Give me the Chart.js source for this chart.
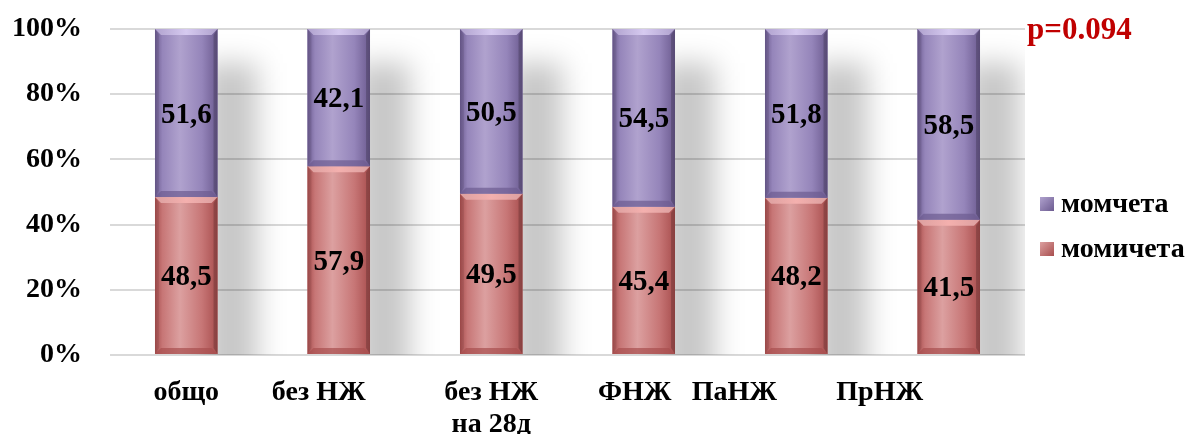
<!DOCTYPE html>
<html>
<head>
<meta charset="utf-8">
<script src="https://cdn.jsdelivr.net/npm/chart.js@4.4.1/dist/chart.umd.min.js"></script>
<style>
  html, body { margin: 0; padding: 0; background: #fff; }
  #wrap { width: 1190px; height: 434px; }
</style>
</head>
<body>
<div id="wrap"><canvas id="myCanvas" width="1190" height="434"></canvas></div>
<script>
// groups and percent shares (girls / boys)
let categories = [["общо"], ["без НЖ"], ["без НЖ", "на 28д"], ["ФНЖ"], ["ПаНЖ"], ["ПрНЖ"]];
let girls = [48.5, 57.9, 49.5, 45.4, 48.2, 41.5];
let boys = [51.6, 42.1, 50.5, 54.5, 51.8, 58.5];
let yTicks = [0, 20, 40, 60, 80, 100];
let pText = "p=0.094";

// category labels sit a little left of some bars
let labelShift = [0, -20, 0, -9, -62, -69];

const serif = "'Liberation Serif', 'Times New Roman', serif";

// 100% stacked: each bar is its share of the group total
function share(arr, i) {
  return arr[i] / (girls[i] + boys[i]) * 100;
}

const palette = {
  girls: { base: '#C77676', dark: '#A84E4E', light: '#DCA0A0', top: '#F4B0AE' },
  boys: { base: '#9585BA', dark: '#6C5B90', light: '#B0A2CE', top: '#D6CAF0' }
};

// soft grey shadow to the right of every column
const shadowPlugin = {
  id: 'colShadow',
  beforeDatasetsDraw(chart) {
    const ctx = chart.ctx;
    const meta = chart.getDatasetMeta(1);
    const base = chart.scales.y.getPixelForValue(0);
    ctx.save();
    ctx.beginPath();
    ctx.rect(chart.chartArea.left, chart.chartArea.top, chart.chartArea.width, base - chart.chartArea.top);
    ctx.clip();
    ctx.filter = 'blur(14px)';
    meta.data.forEach(bar => {
      const right = bar.x + bar.width / 2;
      ctx.fillStyle = 'rgba(0,0,0,0.22)';
      ctx.fillRect(right - 14, bar.y + 34, 54, base - bar.y);
    });
    ctx.restore();
  }
};

// bevelled look and value labels on top of the plain bars
const bevelPlugin = {
  id: 'bevel',
  afterDatasetsDraw(chart) {
    const ctx = chart.ctx;
    [0, 1].forEach(di => {
      const meta = chart.getDatasetMeta(di);
      const col = di === 0 ? palette.girls : palette.boys;
      const values = di === 0 ? girls : boys;
      meta.data.forEach((bar, i) => {
        const l = bar.x - bar.width / 2, r = bar.x + bar.width / 2;
        const t = Math.min(bar.y, bar.base), b = Math.max(bar.y, bar.base);
        const w = r - l, bv = 6;
        ctx.save();
        const g = ctx.createLinearGradient(l, 0, r, 0);
        g.addColorStop(0, col.dark);
        g.addColorStop(0.12, col.base);
        g.addColorStop(0.4, col.light);
        g.addColorStop(0.75, col.base);
        g.addColorStop(1, col.dark);
        ctx.fillStyle = g;
        ctx.fillRect(l, t, w, b - t);
        // top bevel
        ctx.beginPath();
        ctx.moveTo(l, t); ctx.lineTo(r, t); ctx.lineTo(r - bv, t + bv); ctx.lineTo(l + bv, t + bv);
        ctx.closePath();
        const gt = ctx.createLinearGradient(l, 0, r, 0);
        gt.addColorStop(0, col.light);
        gt.addColorStop(0.5, col.top);
        gt.addColorStop(1, col.light);
        ctx.fillStyle = gt;
        ctx.fill();
        // bottom bevel
        ctx.beginPath();
        ctx.moveTo(l, b); ctx.lineTo(r, b); ctx.lineTo(r - bv, b - bv); ctx.lineTo(l + bv, b - bv);
        ctx.closePath();
        ctx.fillStyle = col.dark;
        ctx.globalAlpha = 0.7;
        ctx.fill();
        // side bevels
        ctx.globalAlpha = 0.18;
        ctx.beginPath();
        ctx.moveTo(r, t); ctx.lineTo(r, b); ctx.lineTo(r - 4, b - bv); ctx.lineTo(r - 4, t + bv);
        ctx.closePath();
        ctx.fillStyle = '#000';
        ctx.fill();
        ctx.globalAlpha = 0.08;
        ctx.beginPath();
        ctx.moveTo(l, t); ctx.lineTo(l, b); ctx.lineTo(l + 4, b - bv); ctx.lineTo(l + 4, t + bv);
        ctx.closePath();
        ctx.fill();
        ctx.restore();

        ctx.save();
        ctx.font = `bold 29px ${serif}`;
        ctx.fillStyle = '#000';
        ctx.textAlign = 'center';
        ctx.textBaseline = 'middle';
        ctx.fillText(values[i].toFixed(1).replace('.', ','), bar.x, (t + b) / 2 + 2);
        ctx.restore();
      });
    });
  }
};

// category names, legend and p-value
const textPlugin = {
  id: 'texts',
  afterDraw(chart) {
    const ctx = chart.ctx;
    const xs = chart.scales.x;
    const area = chart.chartArea;
    ctx.save();
    ctx.fillStyle = '#000';
    ctx.font = `bold 28px ${serif}`;
    ctx.textAlign = 'center';
    ctx.textBaseline = 'middle';
    categories.forEach((lines, i) => {
      const x = xs.getPixelForValue(i) + labelShift[i];
      lines.forEach((ln, k) => ctx.fillText(ln, x, area.bottom + 38 + k * 32));
    });

    // legend, boys on top
    const items = [
      { text: chart.data.datasets[1].label, col: palette.boys },
      { text: chart.data.datasets[0].label, col: palette.girls }
    ];
    ctx.textAlign = 'left';
    items.forEach((it, k) => {
      const y = 204 + k * 45;
      const bx = area.right + 15, s = 14;
      const g = ctx.createLinearGradient(bx, y - s / 2, bx + s, y + s / 2);
      g.addColorStop(0, it.col.light);
      g.addColorStop(1, it.col.dark);
      ctx.fillStyle = g;
      ctx.fillRect(bx, y - s / 2, s, s);
      ctx.fillStyle = '#000';
      ctx.fillText(it.text, bx + 21, y + 1);
    });

    ctx.font = `bold 31px ${serif}`;
    ctx.fillStyle = '#C00000';
    ctx.fillText(pText, area.right + 2, area.top + 2);
    ctx.restore();
  }
};

const config = {
  type: 'bar',
  data: {
    labels: categories.map(c => c.join(' ')),
    datasets: [
      {
        label: 'момичета',
        data: girls.map((v, i) => share(girls, i)),
        backgroundColor: palette.girls.base
      },
      {
        label: 'момчета',
        data: boys.map((v, i) => share(boys, i)),
        backgroundColor: palette.boys.base
      }
    ]
  },
  options: {
    responsive: false,
    devicePixelRatio: 1,
    animation: false,
    layout: { padding: { left: 12, right: 165, top: 29, bottom: 71 } },
    plugins: { legend: { display: false }, tooltip: { enabled: false } },
    datasets: { bar: { barPercentage: 0.41, categoryPercentage: 1, borderWidth: 0 } },
    scales: {
      x: {
        stacked: true,
        grid: { display: false },
        border: { display: false },
        ticks: { display: false }
      },
      y: {
        stacked: true,
        min: 0,
        max: 100,
        afterBuildTicks: axis => { axis.ticks = yTicks.map(v => ({ value: v })); },
        afterFit: axis => { axis.width = 98; axis.paddingTop = 0; },
        grid: { color: '#D9D9D9', lineWidth: 2, drawTicks: false },
        border: { display: false },
        ticks: {
          padding: 28,
          color: '#000',
          font: { family: serif, size: 28, weight: 'bold' },
          callback: v => v + '%'
        }
      }
    }
  },
  plugins: [shadowPlugin, bevelPlugin, textPlugin]
};

new Chart(document.getElementById('myCanvas'), config);
</script>
</body>
</html>
